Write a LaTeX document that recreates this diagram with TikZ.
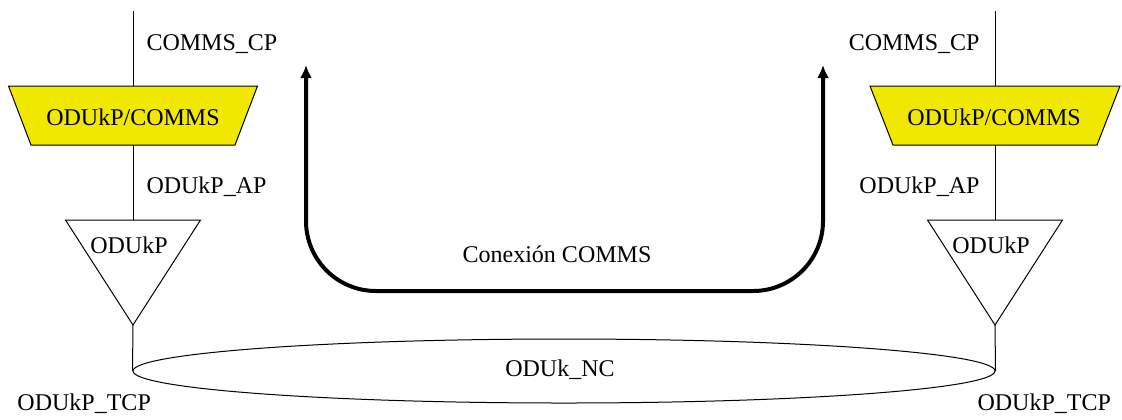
\documentclass[tikz,border=0pt]{standalone}
\usepackage{fontspec}
\setmainfont{Liberation Serif}
\usetikzlibrary{arrows.meta,shapes.geometric}
\definecolor{commsyellow}{RGB}{240,232,0}
\begin{document}
\begin{tikzpicture}[x=0.5pt,y=-0.5pt,line width=0.5pt,
  txt/.style={inner sep=0pt,font=\fontsize{12}{14}\selectfont},
  lw/.style={txt,anchor=base west},
  le/.style={txt,anchor=base east},
  lc/.style={txt,anchor=base},
  adapt/.style={draw=black,fill=commsyellow,line width=0.5pt},
  trail/.style={draw=black,fill=white,line width=0.5pt},
  conn/.style={line width=2pt,line cap=butt,rounded corners=35pt,{Latex[length=6.5pt,width=6pt]}-{Latex[length=6.5pt,width=6pt]}}]
\useasboundingbox (0,0) rectangle (1122,419);
% ---------- left column ----------
\coordinate (Ltop) at (133,11);
\coordinate (LtrapT) at (133,86);
\coordinate (LtrapB) at (133,145);
\coordinate (LtriT) at (133,220);
\coordinate (LtriA) at (133,325);
\path[adapt] (8.5,86) -- (257.5,86) -- (235,145) -- (31,145) -- cycle;
\path[trail] (65.5,220) -- (200.5,220) -- (LtriA) -- cycle;
\node[lc] (Ladapt) at (133,125) {ODUkP/COMMS};
\node[lc] (Ltt) at (129,253) {ODUkP};
\node[lw] (Lcp) at (146,50) {COMMS\_CP};
\node[lw] (Lap) at (146,193) {ODUkP\_AP};
\node[lw] (Ltcp) at (17,410) {ODUkP\_TCP};
% ---------- right column ----------
\coordinate (Rtop) at (995,11);
\coordinate (RtrapT) at (995,86);
\coordinate (RtrapB) at (995,145);
\coordinate (RtriT) at (995,220);
\coordinate (RtriA) at (995,325);
\path[adapt] (870,86) -- (1120,86) -- (1097,145) -- (893,145) -- cycle;
\path[trail] (927.5,220) -- (1062.5,220) -- (RtriA) -- cycle;
\node[lc] (Radapt) at (994,125) {ODUkP/COMMS};
\node[lc] (Rtt) at (991,253) {ODUkP};
\node[le] (Rcp) at (980,50) {COMMS\_CP};
\node[le] (Rap) at (980,193) {ODUkP\_AP};
\node[lw] (Rtcp) at (977,410) {ODUkP\_TCP};
% ---------- network connection ----------
\node[draw,ellipse,inner sep=0pt,minimum width=431pt,minimum height=32pt] (nc) at (564,371) {};
\node[lc] (nclbl) at (560,376) {ODUk\_NC};
% ---------- vertical links ----------
\draw (Ltop) -- (LtrapT);
\draw (LtrapB) -- (LtriT);
\draw (LtriA) -- (nc.west);
\draw (Rtop) -- (RtrapT);
\draw (RtrapB) -- (RtriT);
\draw (RtriA) -- (nc.east);
% ---------- COMMS connection ----------
\coordinate (A1) at (306,65);
\coordinate (A2) at (823,65);
\draw[conn] (A1) -- (306,291) -- (823,291) -- (A2);
\node[lc] (conx) at (557,262) {Conexión COMMS};
\end{tikzpicture}
\end{document}
